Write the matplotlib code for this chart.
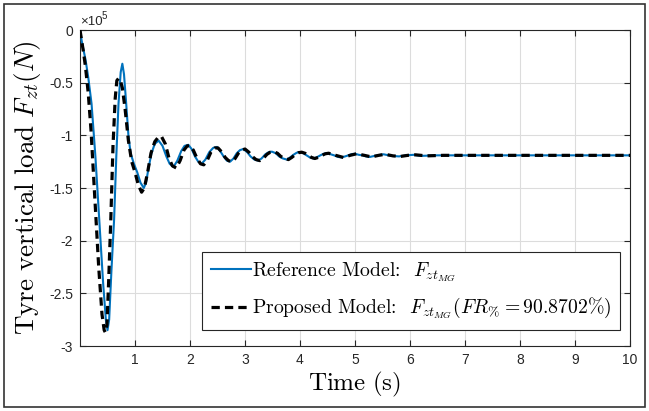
import matplotlib.pyplot as plt
import matplotlib.patches as patches
import numpy as np

plt.rcParams['mathtext.fontset'] = 'cm'
plt.rcParams['font.family'] = ['Liberation Sans', 'DejaVu Sans']

# reference model (values in 1e5 N)
t_ref = [0.00, 0.03, 0.06, 0.10, 0.15, 0.21, 0.28, 0.35, 0.42, 0.47, 0.50, 0.53,
         0.57, 0.62, 0.66, 0.70, 0.74, 0.77, 0.80, 0.84, 0.88, 0.92, 0.98, 1.04,
         1.10, 1.16, 1.20, 1.25, 1.30, 1.36, 1.43, 1.50, 1.57, 1.63, 1.70, 1.77,
         1.84, 1.90, 1.97, 2.03, 2.09, 2.15, 2.21, 2.28, 2.35, 2.42, 2.49, 2.55,
         2.61, 2.67, 2.73, 2.79, 2.85, 2.91, 2.97, 3.04, 3.10, 3.17, 3.24, 3.30,
         3.37, 3.43, 3.49, 3.56, 3.62, 3.69, 3.76, 3.82, 3.88, 3.94, 4.00, 4.06,
         4.12, 4.18, 4.24, 4.30, 4.37, 4.43, 4.49, 4.56, 4.62, 4.69, 4.76, 4.82,
         4.88, 4.94, 5.00, 5.07, 5.14, 5.20, 5.27, 5.40, 5.52, 5.66, 5.80, 5.93,
         6.06, 6.20, 6.50, 7.00, 8.00, 9.00, 10.00]
f_ref = [0.00, -0.10, -0.18, -0.28, -0.45, -0.70, -1.20, -1.80, -2.40, -2.75, -2.85, -2.75,
         -2.30, -1.80, -1.20, -0.70, -0.40, -0.32, -0.42, -0.70, -1.00, -1.17, -1.27, -1.35,
         -1.45, -1.50, -1.45, -1.30, -1.17, -1.08, -1.05, -1.10, -1.20, -1.27, -1.30, -1.24,
         -1.15, -1.10, -1.09, -1.13, -1.20, -1.25, -1.27, -1.23, -1.16, -1.12, -1.11, -1.15,
         -1.20, -1.24, -1.25, -1.22, -1.17, -1.14, -1.13, -1.16, -1.20, -1.23, -1.24, -1.22,
         -1.18, -1.16, -1.155, -1.17, -1.20, -1.22, -1.23, -1.21, -1.185, -1.165, -1.16, -1.17,
         -1.19, -1.21, -1.22, -1.21, -1.19, -1.175, -1.17, -1.18, -1.19, -1.205, -1.21, -1.20,
         -1.19, -1.178, -1.175, -1.185, -1.19, -1.20, -1.205, -1.19, -1.18, -1.195, -1.20, -1.19,
         -1.185, -1.195, -1.19, -1.19, -1.19, -1.19, -1.19]

# proposed model
t_prop = [0.00, 0.03, 0.06, 0.10, 0.15, 0.20, 0.27, 0.34, 0.40, 0.44, 0.46, 0.49,
          0.52, 0.56, 0.60, 0.64, 0.67, 0.70, 0.73, 0.77, 0.82, 0.88, 0.94, 1.00,
          1.06, 1.12, 1.17, 1.23, 1.29, 1.36, 1.42, 1.48, 1.55, 1.62, 1.68, 1.75,
          1.82, 1.89, 1.95, 2.00, 2.06, 2.12, 2.19, 2.25, 2.32, 2.38, 2.45, 2.51,
          2.58, 2.64, 2.70, 2.76, 2.82, 2.88, 2.94, 3.00, 3.07, 3.13, 3.20, 3.27,
          3.33, 3.40, 3.46, 3.52, 3.59, 3.65, 3.72, 3.79, 3.85, 3.91, 3.97, 4.03,
          4.09, 4.15, 4.21, 4.27, 4.33, 4.40, 4.46, 4.52, 4.65, 4.79, 4.91, 5.03,
          5.17, 5.30, 5.43, 5.55, 5.69, 5.83, 5.96, 6.10, 6.30, 6.60, 7.00, 8.00,
          9.00, 10.00]
f_prop = [0.00, -0.10, -0.20, -0.35, -0.60, -0.95, -1.60, -2.25, -2.70, -2.85, -2.87, -2.80,
          -2.40, -1.80, -1.10, -0.65, -0.48, -0.46, -0.47, -0.55, -0.75, -1.05, -1.25, -1.35,
          -1.47, -1.54, -1.50, -1.35, -1.17, -1.06, -1.02, -1.01, -1.08, -1.22, -1.29, -1.31,
          -1.24, -1.14, -1.10, -1.10, -1.14, -1.21, -1.27, -1.28, -1.23, -1.16, -1.12, -1.12,
          -1.16, -1.21, -1.24, -1.25, -1.22, -1.17, -1.14, -1.13, -1.16, -1.20, -1.23, -1.24,
          -1.22, -1.18, -1.16, -1.155, -1.17, -1.20, -1.22, -1.23, -1.21, -1.185, -1.165, -1.16,
          -1.17, -1.19, -1.21, -1.22, -1.21, -1.19, -1.175, -1.17, -1.19, -1.21, -1.19, -1.175,
          -1.19, -1.205, -1.19, -1.18, -1.195, -1.20, -1.19, -1.185, -1.195, -1.19, -1.19, -1.19,
          -1.19, -1.19]

x_ticks = [1, 2, 3, 4, 5, 6, 7, 8, 9, 10]
y_ticks = [0, -0.5, -1, -1.5, -2, -2.5, -3]
y_ticklabels = ['0', '-0.5', '-1', '-1.5', '-2', '-2.5', '-3']

fig = plt.figure(figsize=(6.49, 4.11), dpi=100)
ax = fig.add_axes([80 / 649, 65 / 411, 550 / 649, 316 / 411])

ax.plot(t_ref, f_ref, color='#0072BD', lw=1.5,
        label=r'Reference Model:  $F_{zt_{MG}}$', zorder=3)
ax.plot(t_prop, f_prop, color='black', lw=2.3, ls=(0, (2.6, 1.6)),
        label=r'Proposed Model:  $F_{zt_{MG}}(FR_{\%}=90.8702\%)$', zorder=4)

ax.set_xlim(0, 10)
ax.set_ylim(-3, 0)
ax.set_xticks(x_ticks)
ax.set_yticks(y_ticks)
ax.set_yticklabels(y_ticklabels)
ax.grid(True, color='#dcdcdc', lw=0.8)
ax.set_axisbelow(True)
ax.tick_params(direction='in', top=True, right=True, labelsize=10,
               colors='#262626', length=4, width=0.8, pad=5)
for s in ax.spines.values():
    s.set_color('#262626')
    s.set_linewidth(0.8)

# exponent label above the y axis
ax.text(0.0, 1.006, '\u00d710', transform=ax.transAxes, fontsize=9.5,
        color='#262626', va='bottom', ha='left')
ax.text(0.039, 1.03, '5', transform=ax.transAxes, fontsize=7,
        color='#262626', va='bottom', ha='left')

ax.set_xlabel(r'$\mathrm{Time\ (s)}$', fontsize=18, labelpad=2)
ax.set_ylabel(r'$\mathrm{Tyre\ vertical\ load}\ F_{zt}(N)$', fontsize=19.5, labelpad=4)

leg = ax.legend(loc='lower right', bbox_to_anchor=(0.982, 0.05),
                prop={'family': 'cmr10', 'size': 14.2},
                fancybox=False, framealpha=1, edgecolor='#262626',
                handlelength=2.0, handletextpad=0.05, labelspacing=0.6,
                borderpad=0.45, borderaxespad=0)
leg.get_frame().set_linewidth(0.8)

fig.patches.append(patches.Rectangle((4 / 649, 4 / 411), 641 / 649, 403 / 411,
                                     transform=fig.transFigure, fill=False,
                                     ec='#333333', lw=1.2))

fig.savefig('out.png', dpi=100)
